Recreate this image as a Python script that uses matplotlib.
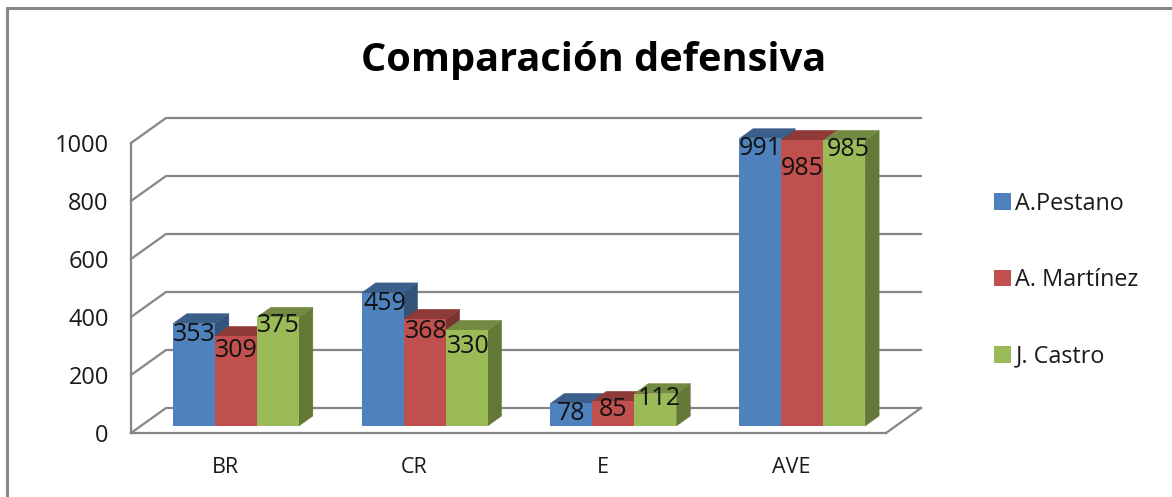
import matplotlib
matplotlib.use("Agg")
import matplotlib.pyplot as plt
from matplotlib.patches import Polygon, Rectangle
from matplotlib.transforms import ScaledTranslation
import numpy as np

categories = ["BR", "CR", "E", "AVE"]
pestano = [353, 459, 78, 991]
martinez = [309, 368, 85, 985]
castro = [375, 330, 112, 985]
series_names = ["A.Pestano", "A. Martínez", "J. Castro"]
yticks = [0, 200, 400, 600, 800, 1000]

front_colors = ["#4F81BD", "#C0504D", "#9BBB59"]
top_colors = ["#3A5F8B", "#8D3A38", "#728A41"]
side_colors = ["#335478", "#7B3331", "#647837"]
# label placement relative to the top of each front face, in pixels
label_drop_px = [[11, 11, 10, 10], [14, 12, 8, 28], [8, 16, 5, 9]]
label_shift_px = [[0, 2, 0, 0], [1, 2, 0, 0], [0, 2, 4, 4]]

plt.rcParams["font.family"] = ["Open Sans", "DejaVu Sans"]
W, H, DPI = 1172, 497, 100
fig = plt.figure(figsize=(W / DPI, H / DPI), dpi=DPI, facecolor="white")

# front plane of the box in pixels
L, R, T, B = 131, 886, 143, 433
ax = fig.add_axes([L / W, 1 - B / H, (R - L) / W, (B - T) / H])
ax.set_xlim(-0.5, 3.5)
ax.set_ylim(0, 1000)
ax.patch.set_visible(False)

per_x = (R - L) / 4          # pixels per category
per_y = (B - T) / 1000       # pixels per unit
GRID = "#868686"
TEXT = "#1a1a1a"

# walls of the box
wall_dx, wall_dy = 35 / per_x, 25 / per_y
for v in yticks:
    ax.plot([-0.5, -0.5 + wall_dx, 3.5 + wall_dx], [v, v + wall_dy, v + wall_dy],
            color=GRID, lw=1.6, zorder=1, clip_on=False, solid_joinstyle="miter")
ax.plot([3.5, 3.5 + wall_dx], [0, wall_dy], color=GRID, lw=1.6, zorder=1, clip_on=False)

# bars stand on a plane shifted into the box
bar_tr = ax.transData + ScaledTranslation(10.5 / DPI, 7 / DPI, fig.dpi_scale_trans)
bar_w = 42 / per_x
depth_x, depth_y = 14 / per_x, 10 / per_y
x = np.arange(len(categories))
values = [pestano, martinez, castro]
z = 3
labels_todo = []
for i in range(len(categories)):
    for s, vals in enumerate(values):
        xc = x[i] + (s - 1) * bar_w
        v = vals[i]
        x0, x1 = xc - bar_w / 2, xc + bar_w / 2
        ax.add_patch(Polygon([(x1, 0), (x1, v), (x1 + depth_x, v + depth_y), (x1 + depth_x, depth_y)],
                             closed=True, facecolor=side_colors[s], edgecolor=side_colors[s], lw=0.3,
                             transform=bar_tr, zorder=z, clip_on=False))
        ax.add_patch(Polygon([(x0, v), (x1, v), (x1 + depth_x, v + depth_y), (x0 + depth_x, v + depth_y)],
                             closed=True, facecolor=top_colors[s], edgecolor=top_colors[s], lw=0.3,
                             transform=bar_tr, zorder=z + 0.1, clip_on=False))
        ax.bar(xc, v, width=bar_w, color=front_colors[s], transform=bar_tr, zorder=z + 0.2, clip_on=False,
               label=series_names[s] if i == 0 else None)
        z += 0.3
        labels_todo.append((xc, v, s, i))

for xc, v, s, i in labels_todo:
    ax.annotate(str(v), xy=(xc, v), xycoords=bar_tr,
                xytext=(label_shift_px[s][i], -label_drop_px[s][i]), textcoords="offset pixels",
                ha="center", va="center", fontsize=18, color="#111111", zorder=20, annotation_clip=False)

for spine in ["top", "right"]:
    ax.spines[spine].set_visible(False)
for spine in ["left", "bottom"]:
    ax.spines[spine].set_color(GRID)
    ax.spines[spine].set_linewidth(1.6)
ax.set_xticks(x, categories)
ax.set_yticks(yticks)
ax.tick_params(axis="y", length=0, pad=16, labelsize=17, labelcolor=TEXT)
ax.tick_params(axis="x", length=0, pad=17, labelsize=15.5, labelcolor=TEXT)

fig.text(594 / W, 1 - 60 / H, "Comparación defensiva", ha="center", va="center",
         fontsize=28.6, fontweight="bold", color="black")

# outer chart frame, cut by the picture edges on the right and bottom
fig.add_artist(Rectangle((6.5 / W, -0.05), 1.05, 1.05 - 7.5 / H, transform=fig.transFigure,
                         facecolor="none", edgecolor=GRID, lw=2.2, zorder=0.2))

ax.legend(loc="center left", bbox_to_anchor=(994 / W, 1 - 280 / H), bbox_transform=fig.transFigure,
          frameon=False, fontsize=16.8, labelspacing=2.25, handlelength=0.72, handleheight=0.72,
          handletextpad=0.2, borderpad=0, borderaxespad=0, labelcolor=TEXT)
fig.savefig("out.png", dpi=DPI)
